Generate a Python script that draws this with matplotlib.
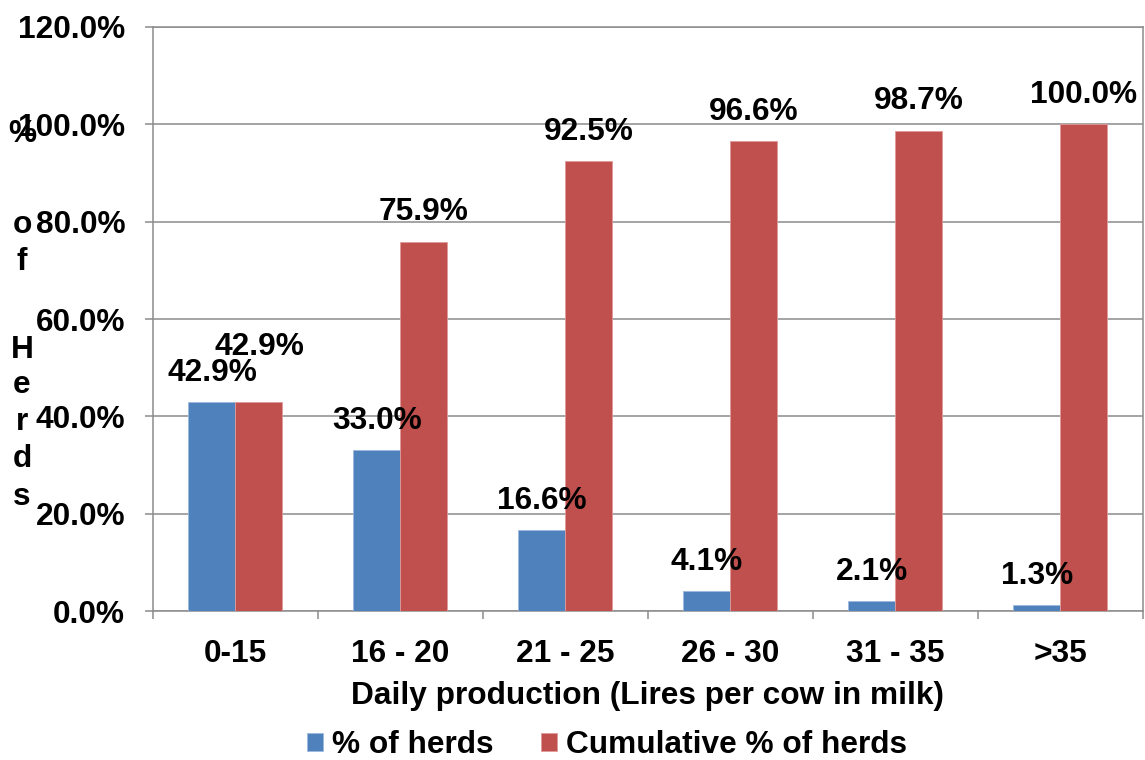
import matplotlib

matplotlib.use("Agg")

import matplotlib.pyplot as plt  # noqa: E402
import numpy as np  # noqa: E402

# Data
categories = ["0-15", "16 - 20", "21 - 25", "26 - 30", "31 - 35", ">35"]
pct_herds = [42.9, 33.0, 16.6, 4.1, 2.1, 1.3]
cum_pct_herds = [42.9, 75.9, 92.5, 96.6, 98.7, 100.0]
y_ticks = [0, 20, 40, 60, 80, 100, 120]

BLUE = "#4F81BD"
RED = "#C0504D"
GRID = "#8C8C8C"
FS = 22.8

plt.rcParams["font.family"] = ["Liberation Sans", "DejaVu Sans"]
plt.rcParams["font.weight"] = "bold"

fig = plt.figure(figsize=(11.45, 7.6), dpi=100)
ax = fig.add_axes([0.1336, 0.196, 0.8644, 0.7685])

x = np.arange(len(categories))
w = 0.285
b1 = ax.bar(x - w / 2, pct_herds, w, color=BLUE, edgecolor="#9DB8DC", linewidth=0.6,
            label="% of herds", zorder=3)
b2 = ax.bar(x + w / 2, cum_pct_herds, w, color=RED, edgecolor="#E09A98", linewidth=0.6,
            label="Cumulative % of herds", zorder=3)

# value labels above each bar; the first red one is pushed up to clear the blue one
for rect, v in zip(b1, pct_herds):
    ax.annotate(f"{v:.1f}%", (rect.get_x() + rect.get_width() / 2, v),
                xytext=(0, 21), textcoords="offset points", ha="center", va="center",
                fontsize=FS, fontweight="bold")
for i, (rect, v) in enumerate(zip(b2, cum_pct_herds)):
    off = 40 if i == 0 else 21
    ax.annotate(f"{v:.1f}%", (rect.get_x() + rect.get_width() / 2, v),
                xytext=(0, off), textcoords="offset points", ha="center", va="center",
                fontsize=FS, fontweight="bold")

ax.set_ylim(0, 120)
ax.set_xlim(-0.5, len(categories) - 0.5)
ax.set_yticks(y_ticks)
ax.set_yticklabels([f"{t:.1f}%" for t in y_ticks], fontsize=FS, fontweight="bold")
ax.yaxis.grid(True, color=GRID, linewidth=1.1, zorder=0)
ax.tick_params(axis="y", length=6, width=1.1, color=GRID, pad=14)

ax.set_xticks(x)
ax.set_xticklabels(categories, fontsize=FS, fontweight="bold")
ax.set_xticks(np.arange(len(categories) + 1) - 0.5, minor=True)
ax.tick_params(axis="x", which="major", length=0, pad=20)
ax.tick_params(axis="x", which="minor", length=6, width=1.1, color=GRID)
ax.set_xlabel("Daily production (Lires per cow in milk)", fontsize=FS,
              fontweight="bold", labelpad=9)

for s in ax.spines.values():
    s.set_color(GRID)
    s.set_linewidth(1.1)

# stacked y-axis title, one character per line as in the original
ylab = [("%", 142), ("o", 233), ("f", 270), ("H", 358), ("e", 393),
        ("r", 430), ("d", 467), ("s", 505)]
H = 760
for ch, yb in ylab:
    fig.text(22 / 1145, 1 - yb / H, ch, ha="center", va="baseline",
             fontsize=FS, fontweight="bold")

fig.legend(handles=[b1, b2], loc="center", bbox_to_anchor=(0.53, 1 - 745 / H),
           ncol=2, frameon=False, fontsize=FS, handlelength=0.5, handleheight=0.5,
           handletextpad=0.28, columnspacing=1.5, borderaxespad=0)

fig.savefig("out.png", dpi=100)
